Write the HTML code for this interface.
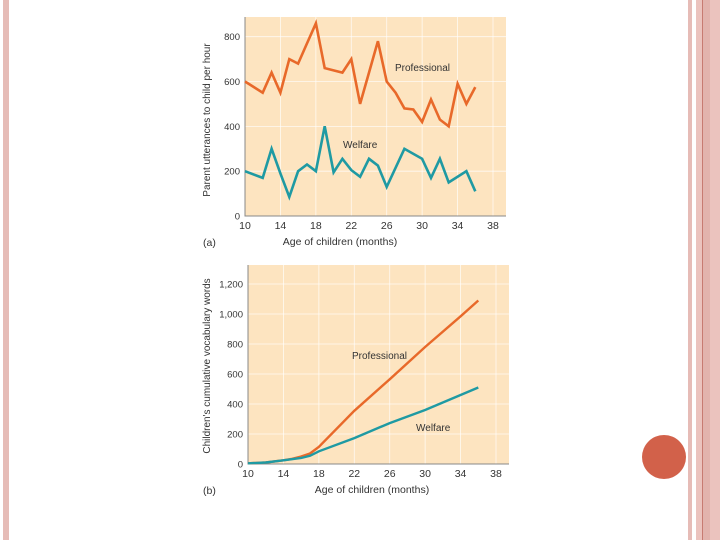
<!DOCTYPE html>
<html><head><meta charset="utf-8"><style>
html,body{margin:0;padding:0;background:#fff;}
body{width:720px;height:540px;position:relative;overflow:hidden;font-family:"Liberation Sans",sans-serif;}
</style></head><body>
<div style="position:absolute;left:3px;top:0;width:6px;height:540px;background:#e6bcb7"></div>
<div style="position:absolute;left:688px;top:0;width:4px;height:540px;background:#e6bcb7"></div>
<div style="position:absolute;left:696px;top:0;width:24px;height:540px;background:#ebc3be"></div>
<div style="position:absolute;left:702px;top:0;width:1px;height:540px;background:#c77b72"></div>
<div style="position:absolute;left:703px;top:0;width:7px;height:540px;background:#e2b3ad"></div>
<div style="position:absolute;left:642px;top:435px;width:44px;height:44px;border-radius:50%;background:#d2614a"></div>
<svg id="chart" width="720" height="540" style="position:absolute;left:0;top:0" xmlns="http://www.w3.org/2000/svg"></svg>
<script>
const xTicks=[10,14,18,22,26,30,34,38];
const aYTicks=[0,200,400,600,800];
const aProfMonths=[10,12,13,14,15,16,17,18,19,21,22,23,24,25,26,27,28,29,30,31,32,33,34,35,36];
const aProfValues=[600,550,640,550,700,680,770,860,660,640,700,500,640,780,600,550,480,475,420,520,430,400,590,500,575];
const aWelfMonths=[10,12,13,14,15,16,17,18,19,20,21,22,23,24,25,26,28,30,31,32,33,35,36];
const aWelfValues=[200,170,300,190,85,200,230,200,400,195,255,205,175,255,225,130,300,255,170,255,150,200,110];
const bYTicks=[0,200,400,600,800,1000,1200];
const bYLabels=["0","200","400","600","800","1,000","1,200"];
const bProfMonths=[10,12,14,15,16,17,18,22,26,30,34,36];
const bProfValues=[5,10,25,35,50,70,115,355,565,780,985,1090];
const bWelfMonths=[10,12,14,16,17,18,22,26,30,36];
const bWelfValues=[5,10,25,40,55,85,173,273,360,510];

const svg=document.getElementById('chart');
const NS='http://www.w3.org/2000/svg';
function mk(tag,attrs,parent){const e=document.createElementNS(NS,tag);for(const k in attrs)e.setAttribute(k,attrs[k]);(parent||svg).appendChild(e);return e;}
const ORANGE='#e8692a',TEAL='#1f9aa3',BG='#fde4c0',TXT='#333';

function panel(cfg){
  const g=mk('g',{});
  
  
  const sx=v=>cfg.x0+(v-10)*(cfg.x38-cfg.x0)/28;
  const sy=v=>cfg.y0-(v)*(cfg.y0-cfg.yTop)/cfg.yTopVal;
  const bg=mk('rect',{x:cfg.left,y:cfg.top,width:cfg.right-cfg.left,height:cfg.bottom-cfg.top,fill:BG},g);
  
  
  xTicks.forEach(t=>{
    const l=mk('line',{x1:sx(t),x2:sx(t),y1:cfg.top,y2:cfg.bottom,stroke:'#fff','stroke-width':0.8,opacity:0.8},g);
    
    
    const tx=mk('text',{x:sx(t),y:cfg.bottom+13,'font-size':10.5,'text-anchor':'middle',fill:TXT},g);
    tx.textContent=t;
    
    
  });
  cfg.yTicks.forEach((t,i)=>{
    const l=mk('line',{x1:cfg.left,x2:cfg.right,y1:sy(t),y2:sy(t),stroke:'#fff','stroke-width':0.8,opacity:0.8},g);
    
    
    const tx=mk('text',{x:cfg.left-5,y:sy(t)+3.5,'font-size':9.5,'text-anchor':'end',fill:TXT},g);
    tx.textContent=cfg.yLabels?cfg.yLabels[i]:t;
    
    
  });
  const ax=mk('path',{d:`M${cfg.left},${cfg.top} V${cfg.bottom} H${cfg.right}`,stroke:'#888',fill:'none','stroke-width':1},g);
  
  
  cfg.series.forEach(s=>{
    const d=s.m.map((m,i)=>(i?'L':'M')+sx(m).toFixed(1)+','+sy(s.v[i]).toFixed(1)).join(' ');
    const p=mk('path',{d,stroke:s.c,fill:'none','stroke-width':cfg.sw,'stroke-linejoin':'miter'},g);
    
    
    const lb=mk('text',{x:s.lx,y:s.ly,'font-size':10,fill:TXT},g);
    lb.textContent=s.label;
    
    
  });
  const xt=mk('text',{x:cfg.xtX,y:cfg.bottom+29,'font-size':10.5,'text-anchor':'middle',fill:TXT},g);
  xt.textContent='Age of children (months)';
  
  
  const pl=mk('text',{x:203,y:cfg.bottom+30,'font-size':10.5,fill:TXT},g);
  pl.textContent=cfg.panelLabel;
  
  
  const yt=mk('text',{x:0,y:0,'font-size':10,'text-anchor':'middle',fill:TXT,transform:`translate(210,${cfg.ytY}) rotate(-90)`},g);
  yt.textContent=cfg.yTitle;
  
  
}

panel({name:'chart-a-utterances',left:245,right:506,top:17,bottom:216,x0:245,x38:493,y0:216,yTop:36.7,yTopVal:800,
  yTicks:aYTicks,sw:2.6,xtX:340,panelLabel:'(a)',ytY:120,yTitle:'Parent utterances to child per hour',
  series:[{name:'professional-line-a',c:ORANGE,m:aProfMonths,v:aProfValues,label:'Professional',lx:395,ly:71},
          {name:'welfare-line-a',c:TEAL,m:aWelfMonths,v:aWelfValues,label:'Welfare',lx:343,ly:148}]});
panel({name:'chart-b-vocabulary',left:248,right:509,top:265,bottom:464,x0:248,x38:496,y0:464,yTop:284,yTopVal:1200,
  yTicks:bYTicks,yLabels:bYLabels,sw:2.4,xtX:372,panelLabel:'(b)',ytY:366,yTitle:"Children's cumulative vocabulary words",
  series:[{name:'professional-line-b',c:ORANGE,m:bProfMonths,v:bProfValues,label:'Professional',lx:352,ly:359},
          {name:'welfare-line-b',c:TEAL,m:bWelfMonths,v:bWelfValues,label:'Welfare',lx:416,ly:431}]});
</script>
</body></html>
